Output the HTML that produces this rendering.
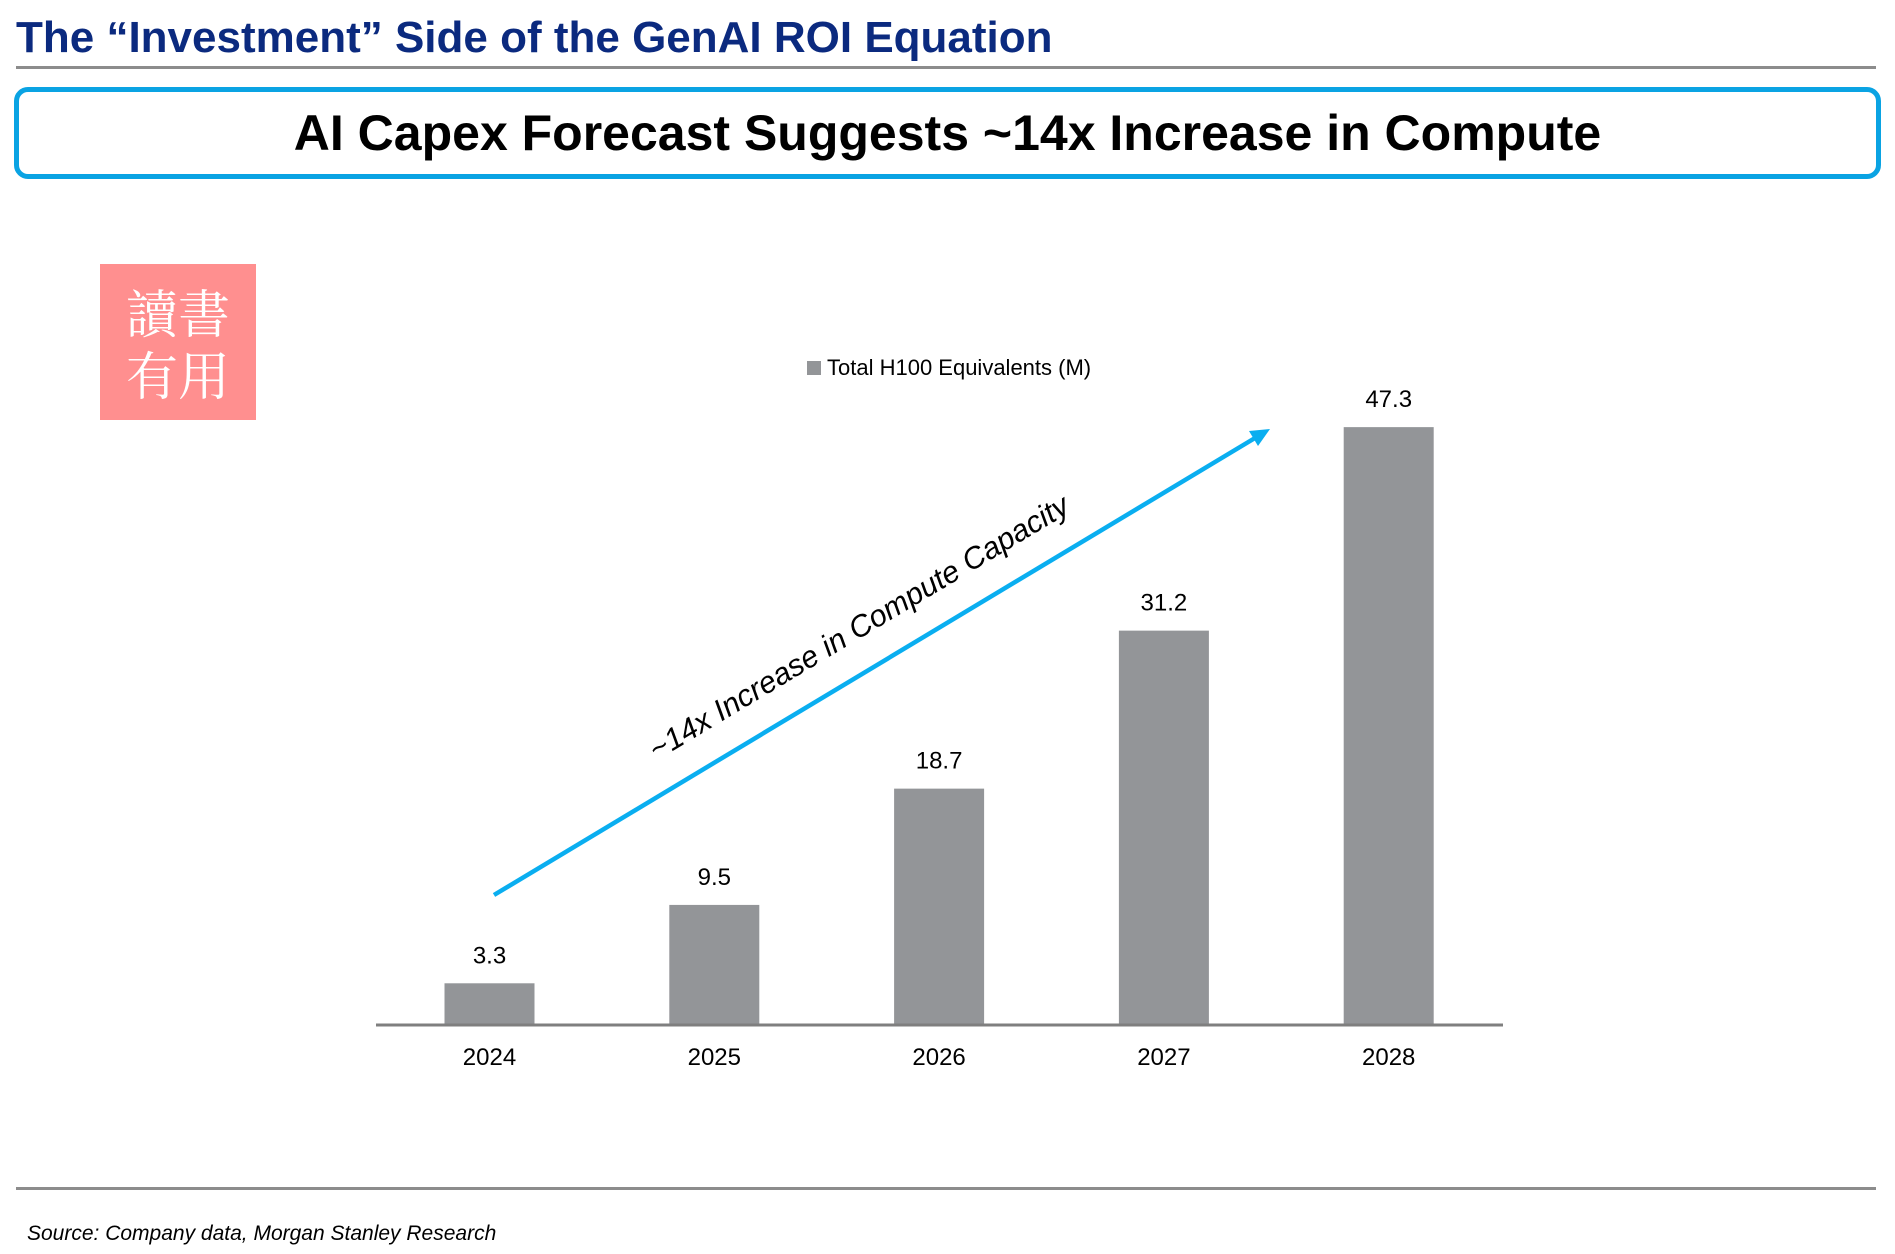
<!DOCTYPE html>
<html><head><meta charset="utf-8"><style>
html,body{margin:0;padding:0;background:#fff;}
body{width:1895px;height:1254px;position:relative;overflow:hidden;font-family:"Liberation Sans",Arial,sans-serif;}
.abs{position:absolute;}
</style></head><body>
<div class="abs" style="left:16px;top:13px;font-size:44px;font-weight:bold;color:#0b2a7f;white-space:nowrap;">The “Investment” Side of the GenAI ROI Equation</div>
<div class="abs" style="left:16px;top:66px;width:1860px;height:3px;background:#8c8c8c;"></div>
<div class="abs" style="left:14px;top:87px;width:1867px;height:92px;border:5px solid #0aa3e3;border-radius:14px;box-sizing:border-box;"></div>
<div class="abs" style="left:14px;top:104px;width:1867px;text-align:center;font-size:50px;font-weight:bold;color:#000;">AI Capex Forecast Suggests ~14x Increase in Compute</div>
<div class="abs" style="left:100px;top:264px;width:156px;height:156px;background:#ff8f8f;color:#fff;font-family:'Noto Serif CJK SC','WenQuanYi Zen Hei',serif;font-size:52px;line-height:62px;text-align:center;padding-top:16px;box-sizing:border-box;">讀書<br>有用</div>
<svg class="abs" style="left:0;top:0" width="1895" height="1254" id="chart"></svg>
<div class="abs" style="left:16px;top:1187px;width:1860px;height:3px;background:#8c8c8c;"></div>
<div class="abs" style="left:27px;top:1222px;font-size:21px;font-style:italic;color:#000;">Source: Company data, Morgan Stanley Research</div>
<script>
const categories=["2024","2025","2026","2027","2028"];
const values=[3.3,9.5,18.7,31.2,47.3];
const valueLabels=["3.3","9.5","18.7","31.2","47.3"];
const NS="http://www.w3.org/2000/svg";
const svg=document.getElementById('chart');
const baseY=1025,pxPerUnit=12.64,x0=489.5,step=224.8,barW=90;
const xs=i=>x0+i*step, ys=v=>baseY-v*pxPerUnit;
const F='"Liberation Sans Narrow","Liberation Sans",sans-serif';
function mk(t,a){const e=document.createElementNS(NS,t);for(const k in a)e.setAttribute(k,a[k]);svg.appendChild(e);return e;}
let lg=mk('rect',{x:807,y:361,width:14,height:14,fill:'#939598'});


let lt=mk('text',{x:827,y:375,'font-size':22,'font-family':F,fill:'#000'});lt.textContent='Total H100 Equivalents (M)';


categories.forEach((c,i)=>{
  const b=mk('rect',{x:xs(i)-barW/2,y:ys(values[i]),width:barW,height:values[i]*pxPerUnit,fill:'#939598'});
  
  
  const v=mk('text',{x:xs(i),y:ys(values[i])-20,'text-anchor':'middle','font-size':24,'font-family':F,fill:'#000'});v.textContent=valueLabels[i];
  
  
  const t=mk('text',{x:xs(i),y:1065,'text-anchor':'middle','font-size':24,'font-family':F,fill:'#000'});t.textContent=c;
  
  
});
const ax=mk('line',{x1:376,y1:1025,x2:1503,y2:1025,stroke:'#7f7f7f','stroke-width':3});


const ar=mk('line',{x1:494,y1:895,x2:1255,y2:438,stroke:'#0aaef0','stroke-width':4.5});


const ah=mk('polygon',{points:'1270,429 1249,431 1258,446',fill:'#0aaef0'});


const at=mk('text',{x:0,y:0,'text-anchor':'middle','font-size':30.5,'font-style':'italic','font-family':'"Liberation Sans",sans-serif',fill:'#000',transform:'translate(864,636) rotate(-31)'});
at.textContent='~14x Increase in Compute Capacity';


</script>
</body></html>
